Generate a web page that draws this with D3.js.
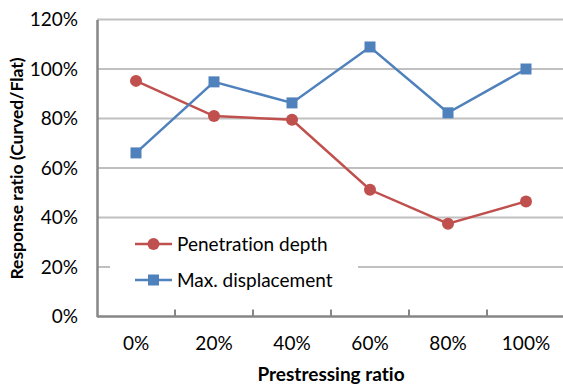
<!DOCTYPE html>
<html>
<head>
<meta charset="utf-8">
<script src="https://cdn.jsdelivr.net/npm/d3@7"></script>
<style>
  html, body { margin: 0; padding: 0; background: #fff; }
  svg { display: block; font-family: Lato, "Open Sans", sans-serif; font-variant-ligatures: none; }
</style>
</head>
<body>
<svg id="chart" width="563" height="385"></svg>
<script>
// Prestressing ratio categories and the two curved/flat response ratios
const categories = ["0%", "20%", "40%", "60%", "80%", "100%"];
const penetrationDepth = [0.952, 0.81, 0.795, 0.512, 0.375, 0.465];
const maxDisplacement = [0.661, 0.948, 0.863, 1.089, 0.823, 1.0];
const yTicks = [0, 0.2, 0.4, 0.6, 0.8, 1.0, 1.2];

const series = [
  { name: "Penetration depth", values: penetrationDepth, color: "#C0504D", marker: "circle" },
  { name: "Max. displacement", values: maxDisplacement, color: "#4F81BD", marker: "square" }
];

const FS = 19;
const svg = d3.select("#chart");
const margin = { left: 97, right: 0, top: 19.5, bottom: 68 };
const W = 563, H = 385;
const plotW = W - margin.left - margin.right + 2;
const plotH = H - margin.top - margin.bottom - 0.5;

const x = d3.scaleBand().domain(categories).range([margin.left, margin.left + plotW]);
const y = d3.scaleLinear().domain([0, 1.2]).range([margin.top + plotH, margin.top]);

// horizontal gridlines
svg.append("g")
  .selectAll("line")
  .data(yTicks.filter(d => d > 0))
  .join("line")
  .attr("x1", margin.left).attr("x2", margin.left + plotW)
  .attr("y1", d => y(d)).attr("y2", d => y(d))
  .attr("stroke", "#C0C0C0").attr("stroke-width", 2);

// y axis
const yAxis = svg.append("g")
  .attr("transform", `translate(${margin.left},0)`)
  .call(d3.axisLeft(y).tickValues(yTicks).tickFormat(d3.format(".0%")).tickSize(0).tickPadding(19));
yAxis.select(".domain").attr("stroke", "#868686").attr("stroke-width", 2.5);
yAxis.selectAll("text").attr("font-size", FS).attr("fill", "#000").attr("font-family", "Lato");

// x axis with tick marks pointing upward at category boundaries
const xAxisG = svg.append("g").attr("transform", `translate(0,${y(0)})`);
xAxisG.append("line")
  .attr("x1", margin.left).attr("x2", margin.left + plotW)
  .attr("stroke", "#868686").attr("stroke-width", 2.5);
xAxisG.selectAll("line.tick")
  .data(categories.slice(1))
  .join("line")
  .attr("class", "tick")
  .attr("x1", d => x(d)).attr("x2", d => x(d))
  .attr("y1", 0).attr("y2", -7)
  .attr("stroke", "#868686").attr("stroke-width", 2);
xAxisG.selectAll("text")
  .data(categories)
  .join("text")
  .attr("x", d => x(d) + x.bandwidth() / 2)
  .attr("y", 33)
  .attr("text-anchor", "middle")
  .attr("font-size", FS)
  .text(d => d);

// legend backdrop
const legendX = 110, legendY = 228;
svg.append("rect")
  .attr("x", legendX).attr("y", legendY)
  .attr("width", 248).attr("height", 68)
  .attr("fill", "#fff");

// series lines and markers
const line = d3.line()
  .x((d, i) => x(categories[i]) + x.bandwidth() / 2)
  .y(d => y(d));

series.forEach(s => {
  const g = svg.append("g");
  g.append("path")
    .datum(s.values)
    .attr("d", line)
    .attr("fill", "none")
    .attr("stroke", s.color)
    .attr("stroke-width", 2.5);
  if (s.marker === "circle") {
    g.selectAll("circle").data(s.values).join("circle")
      .attr("cx", (d, i) => x(categories[i]) + x.bandwidth() / 2)
      .attr("cy", d => y(d))
      .attr("r", 6)
      .attr("fill", s.color);
  } else {
    g.selectAll("rect").data(s.values).join("rect")
      .attr("x", (d, i) => x(categories[i]) + x.bandwidth() / 2 - 5.5)
      .attr("y", d => y(d) - 5.5)
      .attr("width", 11).attr("height", 11)
      .attr("fill", s.color);
  }
});

// legend entries
const legend = svg.append("g");
series.forEach((s, i) => {
  const cy = 244 + i * 36;
  legend.append("line")
    .attr("x1", 135).attr("x2", 172)
    .attr("y1", cy).attr("y2", cy)
    .attr("stroke", s.color).attr("stroke-width", 2.5);
  if (s.marker === "circle") {
    legend.append("circle").attr("cx", 153.5).attr("cy", cy).attr("r", 6).attr("fill", s.color);
  } else {
    legend.append("rect").attr("x", 148).attr("y", cy - 5.5).attr("width", 11).attr("height", 11).attr("fill", s.color);
  }
  legend.append("text")
    .attr("x", 177).attr("y", cy + 6.5)
    .attr("font-size", FS)
    .text(s.name);
});

// axis titles
svg.append("text")
  .attr("x", 331).attr("y", 381)
  .attr("text-anchor", "middle")
  .attr("font-size", 19).attr("font-weight", "bold")
  .text("Prestressing ratio");

svg.append("text")
  .attr("transform", "translate(23,168.5) rotate(-90)")
  .attr("text-anchor", "middle")
  .attr("font-size", 17.5).attr("font-weight", "bold")
  .text("Response ratio (Curved/Flat)");
</script>
</body>
</html>
